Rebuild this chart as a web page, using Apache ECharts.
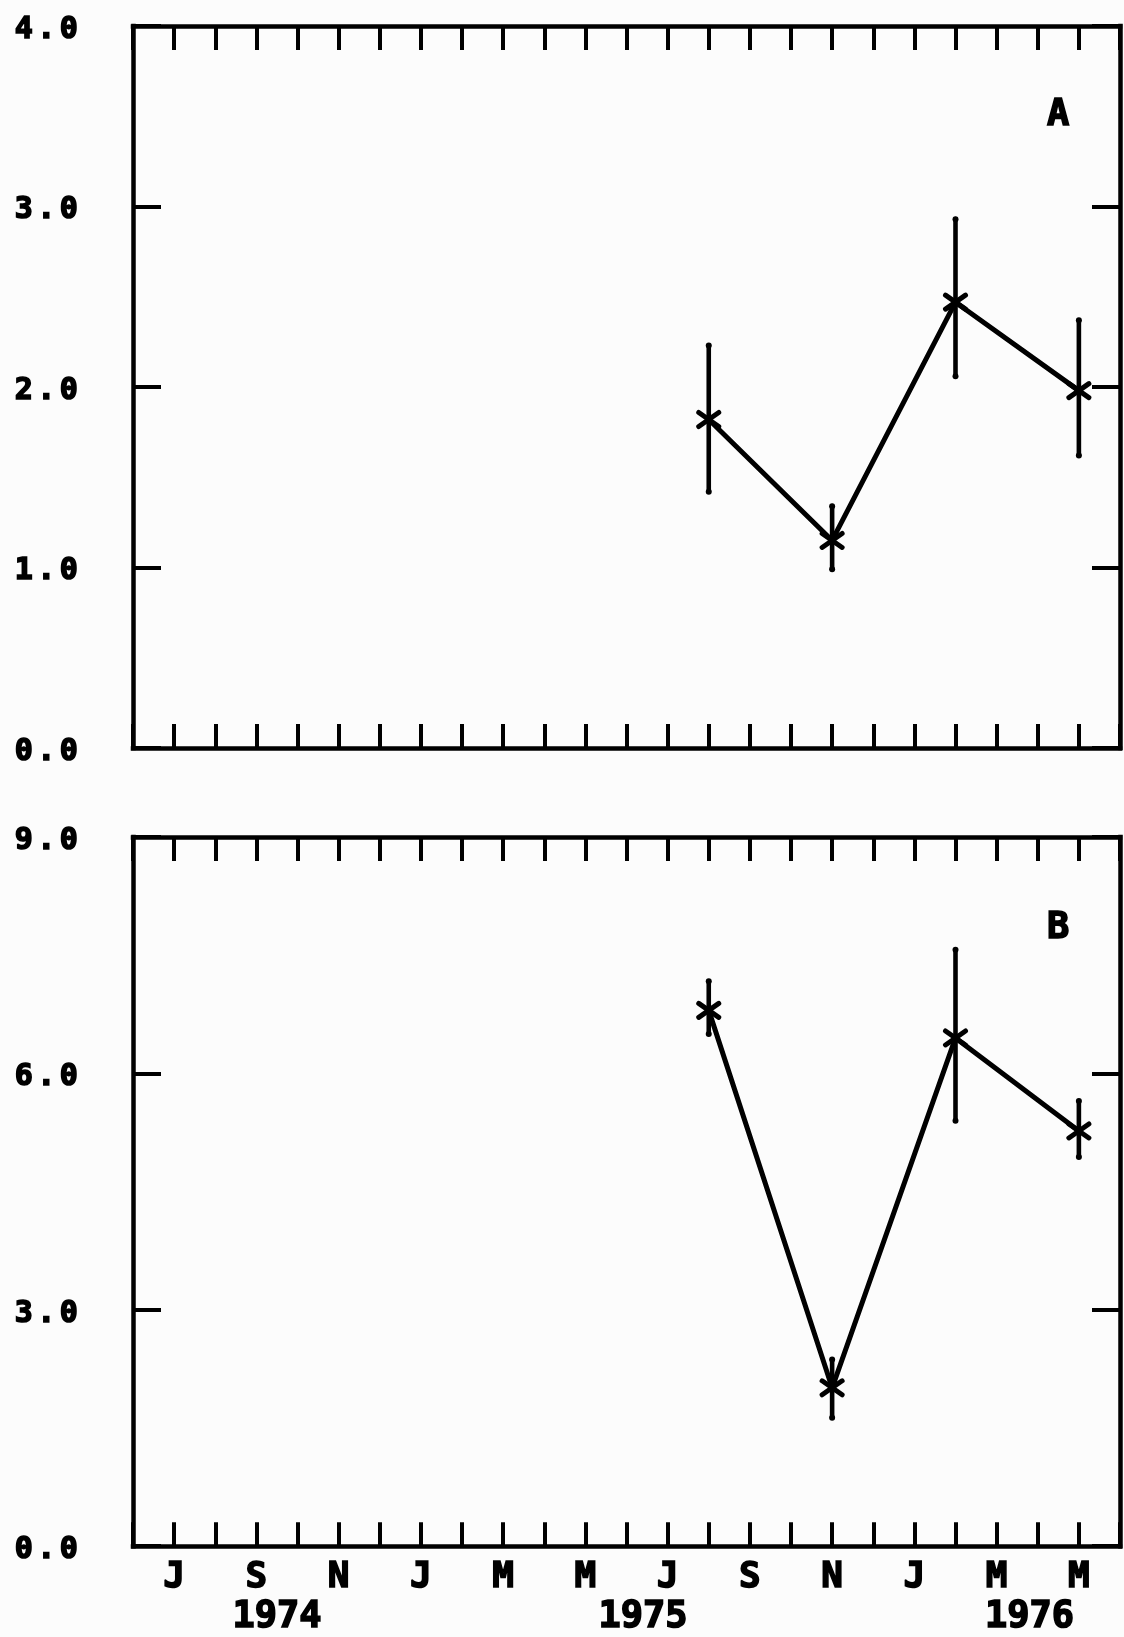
<!DOCTYPE html>
<html>
<head>
<meta charset="utf-8">
<script src="https://cdn.jsdelivr.net/npm/echarts@6/dist/echarts.min.js"></script>
<style>
  html, body { margin: 0; padding: 0; background: #fcfcfc; }
  #chart { width: 1124px; height: 1637px; }
</style>
</head>
<body>
<div id="chart"></div>
<script>
// Monthly ticks from Jun 1974 (index 0) to Jun 1976 (index 24); every other month is labelled.
const monthTicks = ['', 'J', '', 'S', '', 'N', '', 'J', '', 'M', '', 'M', '',
                    'J', '', 'S', '', 'N', '', 'J', '', 'M', '', 'M', ''];
const yearLabels = ['1974', '1975', '1976'];
const yearLabelMonth = [3.5, 12.4, 21.8];

// Sampling months (index from Jun 1974): Aug 1975, Nov 1975, Feb 1976, May 1976
const sampleMonth = [14, 17, 20, 23];

// Panel A: mean with lower / upper limits
const meanA = [1.82, 1.15, 2.47, 1.98];
const lowA  = [1.42, 0.99, 2.06, 1.62];
const highA = [2.23, 1.34, 2.93, 2.37];

// Panel B: mean with lower / upper limits
const meanB = [6.80, 2.01, 6.45, 5.27];
const lowB  = [6.50, 1.63, 5.40, 4.94];
const highB = [7.17, 2.37, 7.57, 5.65];

const yTicksA = ['0.0', '1.0', '2.0', '3.0', '4.0'];
const yTicksB = ['0.0', '3.0', '6.0', '9.0'];

const INK = '#000';
const FONT = 'DejaVu Sans Mono';
const heavyText = { fontFamily: FONT, fontWeight: 'bold', color: INK, textBorderColor: INK, textBorderWidth: 1.6 };

function errorItem(params, api) {
  const x = api.value(0);
  const pM = api.coord([x, api.value(1)]);
  const pLo = api.coord([x, api.value(2)]);
  const pHi = api.coord([x, api.value(3)]);
  const bar = { stroke: INK, lineWidth: 4.6, lineCap: 'round' };
  const star = { stroke: INK, lineWidth: 5, lineCap: 'round' };
  return {
    type: 'group',
    children: [
      { type: 'line', shape: { x1: pLo[0], y1: pLo[1], x2: pHi[0], y2: pHi[1] }, style: bar },
      { type: 'circle', shape: { cx: pLo[0], cy: pLo[1], r: 3 }, style: { fill: INK } },
      { type: 'circle', shape: { cx: pHi[0], cy: pHi[1], r: 3 }, style: { fill: INK } },
      { type: 'line', shape: { x1: pM[0] - 10, y1: pM[1] - 7, x2: pM[0] + 10, y2: pM[1] + 7 }, style: star },
      { type: 'line', shape: { x1: pM[0] - 10, y1: pM[1] + 7, x2: pM[0] + 10, y2: pM[1] - 7 }, style: star }
    ]
  };
}

function boxedDigits(text) {
  return text.split('').map(c => '{c|' + c + '}').join('');
}

const axisLine = { show: true, onZero: false, lineStyle: { color: INK, width: 4.5, cap: 'square' } };
const xTick = { show: true, inside: true, length: 24, lineStyle: { color: INK, width: 4 } };
const yTick = { show: true, inside: true, length: 28, lineStyle: { color: INK, width: 4 } };
const digitRich = {
  c: Object.assign({ width: 22.5, align: 'center', fontSize: 30, padding: [8, 0, 0, 0] }, heavyText)
};

function xAxisDef(grid, position, extra) {
  return Object.assign({
    gridIndex: grid, type: 'value', position: position, min: 0, max: 24, interval: 1,
    axisLine: axisLine, axisTick: xTick, axisLabel: { show: false }, splitLine: { show: false }
  }, extra || {});
}

function yAxisDef(grid, position, max, interval, labels) {
  return {
    gridIndex: grid, type: 'value', position: position, min: 0, max: max, interval: interval,
    axisLine: axisLine, axisTick: yTick, splitLine: { show: false },
    axisLabel: labels ? {
      show: true, margin: 53,
      formatter: v => boxedDigits(labels[Math.round(v / interval)]),
      rich: digitRich
    } : { show: false }
  };
}

const chart = echarts.init(document.getElementById('chart'), null, { renderer: 'canvas' });

chart.setOption({
  animation: false,
  backgroundColor: '#fcfcfc',
  title: [
    { text: 'A', left: 1047, top: 97, padding: 0,
      textStyle: Object.assign({ fontSize: 37 }, heavyText) },
    { text: 'B', left: 1047, top: 910, padding: 0,
      textStyle: Object.assign({ fontSize: 37 }, heavyText) }
  ],
  grid: [
    { left: 133, top: 26, width: 987, height: 722 },
    { left: 133, top: 837, width: 987, height: 710 }
  ],
  xAxis: [
    xAxisDef(0, 'bottom'),
    xAxisDef(0, 'top'),
    xAxisDef(1, 'bottom', {
      axisLabel: Object.assign({
        show: true, margin: 13,
        formatter: v => monthTicks[Math.round(v)] || '',
        fontSize: 36
      }, heavyText)
    }),
    xAxisDef(1, 'top'),
    xAxisDef(1, 'bottom', {
      offset: 42,
      axisLine: { show: false, onZero: false },
      axisTick: { show: false },
      axisLabel: Object.assign({
        show: true, margin: 11,
        customValues: yearLabelMonth,
        formatter: v => {
          let best = 0;
          yearLabelMonth.forEach((m, i) => {
            if (Math.abs(m - v) < Math.abs(yearLabelMonth[best] - v)) best = i;
          });
          return yearLabels[best];
        },
        fontSize: 37
      }, heavyText)
    })
  ],
  yAxis: [
    yAxisDef(0, 'left', 4, 1, yTicksA),
    yAxisDef(0, 'right', 4, 1, null),
    yAxisDef(1, 'left', 9, 3, yTicksB),
    yAxisDef(1, 'right', 9, 3, null)
  ],
  series: [
    {
      type: 'line', xAxisIndex: 0, yAxisIndex: 0, symbol: 'none',
      lineStyle: { color: INK, width: 5 },
      data: sampleMonth.map((m, i) => [m, meanA[i]])
    },
    {
      type: 'custom', xAxisIndex: 0, yAxisIndex: 0, renderItem: errorItem,
      encode: { x: 0, y: 1 },
      data: sampleMonth.map((m, i) => [m, meanA[i], lowA[i], highA[i]])
    },
    {
      type: 'line', xAxisIndex: 2, yAxisIndex: 2, symbol: 'none',
      lineStyle: { color: INK, width: 5 },
      data: sampleMonth.map((m, i) => [m, meanB[i]])
    },
    {
      type: 'custom', xAxisIndex: 2, yAxisIndex: 2, renderItem: errorItem,
      encode: { x: 0, y: 1 },
      data: sampleMonth.map((m, i) => [m, meanB[i], lowB[i], highB[i]])
    }
  ]
});
</script>
</body>
</html>
